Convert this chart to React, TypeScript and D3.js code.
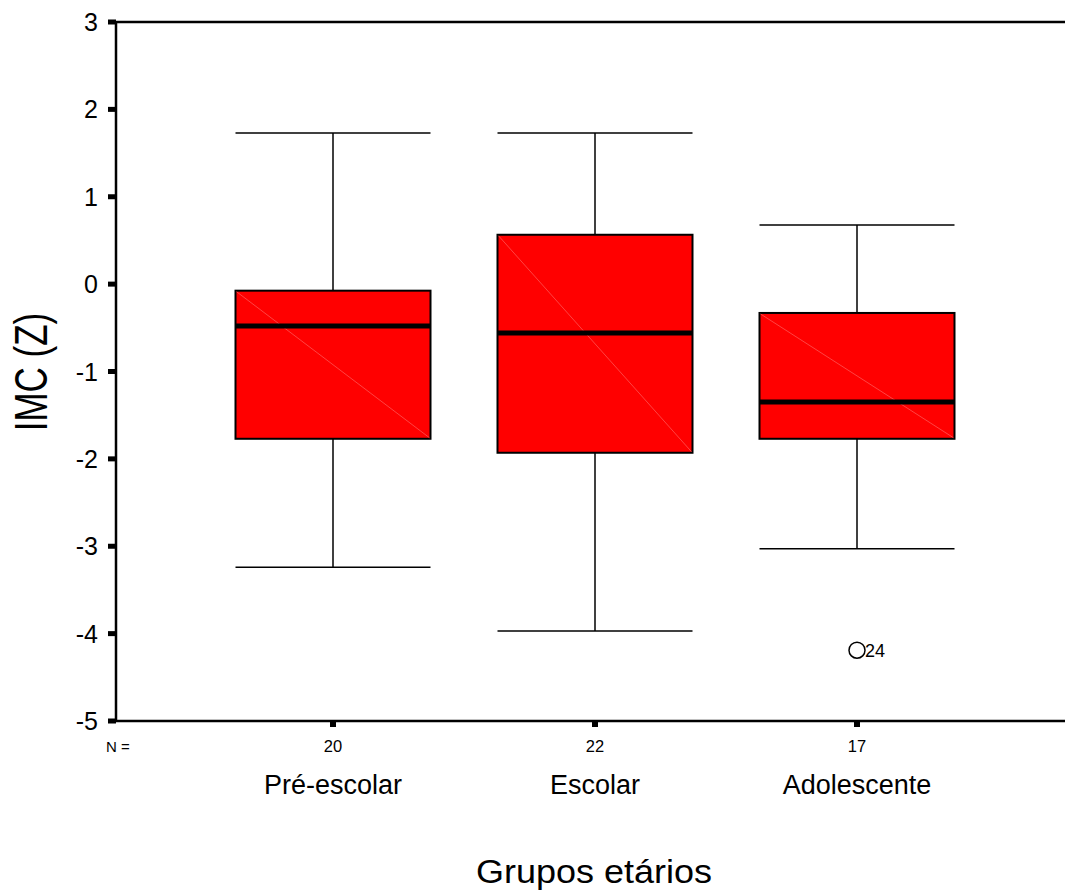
import React from "react";
import * as d3 from "d3";

const categories = ["Pré-escolar", "Escolar", "Adolescente"];
const counts = [20, 22, 17];
const whiskerLow = [-3.24, -3.97, -3.03];
const q1 = [-1.77, -1.93, -1.77];
const medians = [-0.48, -0.56, -1.35];
const q3 = [-0.075, 0.565, -0.33];
const whiskerHigh = [1.73, 1.73, 0.677];
const outliers = [{ group: 2, value: -4.19, label: "24" }];
const yTicks = [3, 2, 1, 0, -1, -2, -3, -4, -5];

const W = 1065;
const H = 890;
const left = 116;
const right = 1065;
const top = 22;
const bottom = 721;
const font = "'Liberation Sans', Arial, sans-serif";

export default function App() {
  const y = d3.scaleLinear().domain([-5, 3]).range([bottom, top]);
  const x = d3.scalePoint<string>().domain(categories).range([333, 857]).padding(0);
  const boxW = 195;

  return (
    <svg width={W} height={H} style={{ position: "absolute", left: 0, top: 0, background: "#fff" }} fontFamily={font}>
      {categories.map((c, i) => {
        const cx = x(c)!;
        const x0 = cx - boxW / 2;
        const x1 = cx + boxW / 2;
        return (
          <g key={c}>
            <line x1={cx} x2={cx} y1={y(whiskerHigh[i])} y2={y(q3[i])} stroke="#000" strokeWidth={1.5} />
            <line x1={cx} x2={cx} y1={y(q1[i])} y2={y(whiskerLow[i])} stroke="#000" strokeWidth={1.5} />
            <line x1={x0} x2={x1} y1={y(whiskerHigh[i])} y2={y(whiskerHigh[i])} stroke="#000" strokeWidth={1.5} />
            <line x1={x0} x2={x1} y1={y(whiskerLow[i])} y2={y(whiskerLow[i])} stroke="#000" strokeWidth={1.5} />
            <rect x={x0} y={y(q3[i])} width={boxW} height={y(q1[i]) - y(q3[i])} fill="#ff0000" stroke="#000" strokeWidth={2} />
            <line x1={x0 + 1} y1={y(q3[i]) + 1} x2={x1 - 1} y2={y(q1[i]) - 1} stroke="#ff7070" strokeWidth={0.6} />
            <line x1={x0} x2={x1} y1={y(medians[i])} y2={y(medians[i])} stroke="#000" strokeWidth={5} />
          </g>
        );
      })}
      {outliers.map((o, k) => {
        const cx = x(categories[o.group])!;
        return (
          <g key={k}>
            <circle cx={cx} cy={y(o.value)} r={8} fill="none" stroke="#000" strokeWidth={1.5} />
            <text x={cx + 8} y={y(o.value) + 7} fontSize={18}>{o.label}</text>
          </g>
        );
      })}
      <line x1={left} x2={left} y1={top - 1} y2={bottom + 1} stroke="#000" strokeWidth={2.5} />
      <line x1={left} x2={right} y1={bottom} y2={bottom} stroke="#000" strokeWidth={2.5} />
      <line x1={left} x2={right} y1={top} y2={top} stroke="#000" strokeWidth={2.5} />
      {yTicks.map((t) => (
        <g key={t}>
          <rect x={left - 8} y={y(t) - 2.5} width={8} height={5} fill="#000" />
          <text x={98} y={y(t) + 9} fontSize={25} textAnchor="end">{t}</text>
        </g>
      ))}
      {categories.map((c, i) => (
        <g key={c}>
          <rect x={x(c)! - 3} y={bottom} width={6} height={6} fill="#000" />
          <text x={x(c)!} y={752} fontSize={16.5} textAnchor="middle">{counts[i]}</text>
          <text x={x(c)!} y={794} fontSize={27} textAnchor="middle">{c}</text>
        </g>
      ))}
      <text x={106} y={752} fontSize={15}>N =</text>
      <text transform="translate(594,883) scale(1,0.92)" fontSize={36} textAnchor="middle">Grupos etários</text>
      <text transform="translate(47,372) rotate(-90) scale(1,1.3)" fontSize={35} textAnchor="middle">IMC (Z)</text>
    </svg>
  );
}
